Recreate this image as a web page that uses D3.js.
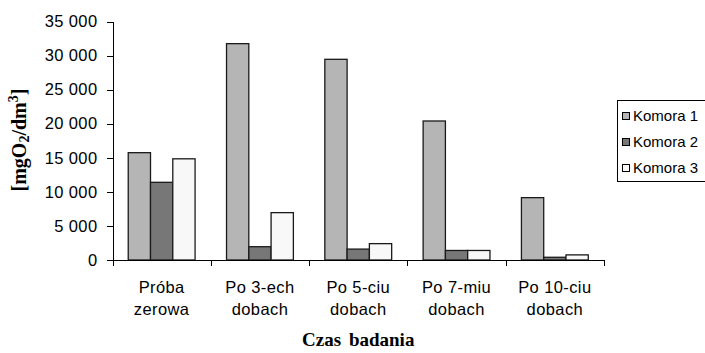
<!DOCTYPE html>
<meta charset="utf-8">
<style>
    body { margin: 0; background: #fff; }
    text { font-family: "Liberation Sans", Arial, sans-serif; fill: #000; }
    .axis path, .axis line { stroke: #000; stroke-width: 1; shape-rendering: crispEdges; }
    .axis text { font-size: 16.5px; letter-spacing: 0.4px; }
    .bar { stroke: #1a1a1a; stroke-width: 1.3; }
    .title { font-family: "Liberation Serif", "Times New Roman", serif; font-weight: bold; font-size: 19px; }
</style>

<svg width="705" height="353"></svg>

<script src="https://cdnjs.cloudflare.com/ajax/libs/d3/7.8.5/d3.min.js"></script>
<script>

    // DATA

    var categories = [
        ["Próba", "zerowa"],
        ["Po 3-ech", "dobach"],
        ["Po 5-ciu", "dobach"],
        ["Po 7-miu", "dobach"],
        ["Po 10-ciu", "dobach"]
    ];
    var series = ["Komora 1", "Komora 2", "Komora 3"];
    var komora1 = [15750, 31750, 29450, 20400, 9150];
    var komora2 = [11400, 1950, 1600, 1400, 400];
    var komora3 = [14850, 6950, 2400, 1400, 750];
    var yTicks = [0, 5000, 10000, 15000, 20000, 25000, 30000, 35000];
    var colors = ["#b5b5b5", "#777777", "#f8f8f8"];

    // SETUP

    var svg = d3.select("svg"),
        plotL = 112.5, plotR = 604, plotT = 21.5, plotB = 260;

    var keys = categories.map(function (c) { return c.join(" "); });
    var values = [komora1, komora2, komora3];

    var x0 = d3.scaleBand()
        .domain(keys)
        .range([plotL, plotR])
        .paddingInner(0.32)
        .paddingOuter(0.16);

    var x1 = d3.scaleBand()
        .domain(series)
        .range([0, x0.bandwidth()]);

    var y = d3.scaleLinear()
        .domain([0, 35000])
        .range([plotB, plotT]);

    var fmt = d3.formatLocale({ decimal: ",", thousands: " ", grouping: [3], currency: ["", ""] }).format(",");

    // BARS

    var groups = svg.selectAll(".group")
        .data(keys)
        .enter().append("g")
        .attr("class", "group")
        .attr("transform", function (d) { return "translate(" + x0(d) + ",0)"; });

    groups.selectAll("rect")
        .data(function (d, i) {
            return series.map(function (s, j) { return { s: s, j: j, v: values[j][i] }; });
        })
        .enter().append("rect")
        .attr("class", "bar")
        .attr("x", function (d) { return x1(d.s); })
        .attr("y", function (d) { return y(d.v); })
        .attr("width", x1.bandwidth())
        .attr("height", function (d) { return plotB - y(d.v); })
        .attr("fill", function (d) { return colors[d.j]; });

    // AXES

    svg.append("g")
        .attr("class", "axis")
        .attr("transform", "translate(" + plotL + ",0)")
        .call(d3.axisLeft(y).tickValues(yTicks).tickSize(6).tickSizeOuter(0).tickPadding(9).tickFormat(fmt));

    var xAxis = svg.append("g")
        .attr("class", "axis")
        .attr("transform", "translate(0," + plotB + ")")
        .call(d3.axisBottom(x0).tickSize(0).tickPadding(0));

    xAxis.select(".domain").attr("d", "M" + plotL + ",0.5H" + plotR);

    xAxis.selectAll(".tick text").each(function (d, i) {
        var t = d3.select(this).text(null).attr("y", 0).attr("dy", null);
        categories[i].forEach(function (line, k) {
            t.append("tspan").attr("x", 0).attr("y", 33 + k * 22).text(line);
        });
    });

    // tick marks between the groups
    xAxis.selectAll(".sep")
        .data(d3.range(keys.length + 1))
        .enter().append("line")
        .attr("class", "sep")
        .attr("x1", function (i) { return Math.round(plotL + i * x0.step()) + 0.5; })
        .attr("x2", function (i) { return Math.round(plotL + i * x0.step()) + 0.5; })
        .attr("y1", 0)
        .attr("y2", 6);

    // TITLES

    svg.append("text")
        .attr("class", "title")
        .attr("x", (plotL + plotR) / 2)
        .attr("y", 346)
        .attr("text-anchor", "middle")
        .style("word-spacing", "3px")
        .text("Czas badania");

    var yl = svg.append("text")
        .attr("class", "title")
        .style("font-size", "20px")
        .attr("transform", "translate(26,140) rotate(-90)")
        .attr("text-anchor", "middle");
    yl.append("tspan").text("[mgO");
    yl.append("tspan").attr("font-size", "14px").attr("dy", 3).text("2");
    yl.append("tspan").attr("dy", -3).text("/dm");
    yl.append("tspan").attr("font-size", "14px").attr("dy", -8).text("3");
    yl.append("tspan").attr("dy", 8).text("]");

    // LEGEND

    var legend = svg.append("g").attr("transform", "translate(617,100)");

    legend.append("rect")
        .attr("x", 0.5).attr("y", 0.5)
        .attr("width", 100).attr("height", 81)
        .attr("fill", "#fff")
        .attr("stroke", "#000");

    var item = legend.selectAll(".item")
        .data(series)
        .enter().append("g")
        .attr("class", "item")
        .attr("transform", function (d, i) { return "translate(0," + (16 + i * 26) + ")"; });

    item.append("rect")
        .attr("x", 5.5).attr("y", -3.5)
        .attr("width", 7).attr("height", 7)
        .attr("fill", function (d, i) { return colors[i]; })
        .attr("stroke", "#000");

    item.append("text")
        .attr("x", 16)
        .attr("dy", "0.36em")
        .style("font-size", "15px")
        .text(function (d) { return d; });

</script>
